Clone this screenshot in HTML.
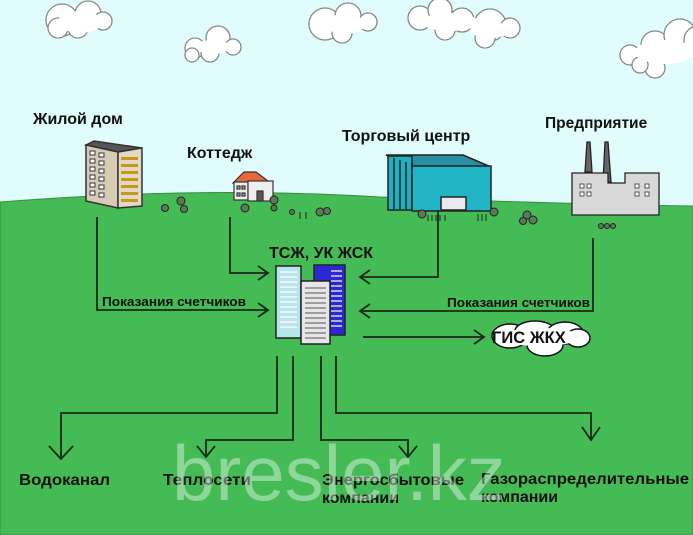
<!DOCTYPE html>
<html><head><meta charset="utf-8"><style>
html,body{margin:0;padding:0;background:#e0fcfc}
svg{display:block}
text{font-family:"Liberation Sans","DejaVu Sans",sans-serif;font-weight:bold;fill:#111}
</style></head><body>
<svg width="693" height="535" viewBox="0 0 693 535" xmlns="http://www.w3.org/2000/svg">
<rect width="693" height="535" fill="#e0fcfc"/>
<!-- clouds -->
<g fill="#fff" stroke="#888" stroke-width="1.3">
 <g><circle cx="62" cy="20" r="16"/><circle cx="88" cy="14" r="13"/><circle cx="103" cy="21" r="9"/><circle cx="78" cy="28" r="10"/><circle cx="58" cy="28" r="10"/></g>
 <g><circle cx="195" cy="48" r="10"/><circle cx="218" cy="38" r="12"/><circle cx="233" cy="47" r="8"/><circle cx="210" cy="53" r="9"/><circle cx="192" cy="55" r="7"/></g>
 <g><circle cx="325" cy="24" r="16"/><circle cx="348" cy="16" r="13"/><circle cx="368" cy="22" r="9"/><circle cx="342" cy="33" r="10"/></g>
 <g><circle cx="420" cy="18" r="12"/><circle cx="440" cy="10" r="12"/><circle cx="462" cy="20" r="12"/><circle cx="490" cy="25" r="16"/><circle cx="510" cy="28" r="10"/><circle cx="485" cy="38" r="10"/><circle cx="445" cy="30" r="10"/></g>
 <g><circle cx="630" cy="55" r="10"/><circle cx="655" cy="45" r="14"/><circle cx="680" cy="35" r="16"/><circle cx="698" cy="40" r="14"/><circle cx="655" cy="68" r="10"/><circle cx="640" cy="65" r="8"/></g>
</g>
<g fill="#fff">
 <ellipse cx="80" cy="22" rx="22" ry="11"/><ellipse cx="213" cy="47" rx="17" ry="7"/><ellipse cx="345" cy="24" rx="20" ry="10"/>
 <ellipse cx="450" cy="22" rx="28" ry="9"/><ellipse cx="490" cy="30" rx="20" ry="8"/><ellipse cx="665" cy="52" rx="30" ry="12"/>
</g>
<!-- ground -->
<path d="M0 202 Q200 186 380 197 Q560 204 693 206 L693 535 L0 535 Z" fill="#44bb55" stroke="#3a8a44" stroke-width="1"/>
<!-- top labels -->
<text x="33" y="124" font-size="16">Жилой дом</text>
<text x="187" y="158" font-size="16">Коттедж</text>
<text x="342" y="141" font-size="16">Торговый центр</text>
<text x="545" y="128" font-size="15.5">Предприятие</text>
<!-- apartment -->
<g stroke="#333" stroke-width="1.5">
 <polygon points="86,145 94,141 142,148 118,152" fill="#555"/>
 <polygon points="86,145 118,152 118,208 86,201" fill="#d8cbb4"/>
 <polygon points="118,152 142,148 142,206 118,208" fill="#e2d8c4"/>
</g>
<g fill="#c39a20">
 <rect x="121" y="157" width="17" height="3"/><rect x="121" y="164" width="17" height="3"/><rect x="121" y="171" width="17" height="3"/><rect x="121" y="178" width="17" height="3"/><rect x="121" y="185" width="17" height="3"/><rect x="121" y="192" width="17" height="3"/><rect x="121" y="199" width="17" height="3"/>
</g>
<g fill="#fff" stroke="#334" stroke-width="1">
 <rect x="90" y="151" width="5" height="4"/><rect x="99" y="153" width="5" height="4"/><rect x="90" y="159" width="5" height="4"/><rect x="99" y="161" width="5" height="4"/><rect x="90" y="167" width="5" height="4"/><rect x="99" y="169" width="5" height="4"/><rect x="90" y="175" width="5" height="4"/><rect x="99" y="177" width="5" height="4"/><rect x="90" y="183" width="5" height="4"/><rect x="99" y="185" width="5" height="4"/><rect x="90" y="191" width="5" height="4"/><rect x="99" y="193" width="5" height="4"/>
</g>
<!-- cottage -->
<g stroke="#333" stroke-width="1.2">
 <polygon points="233,183 244,172 256,172 268,181 246,183" fill="#e8683a"/>
 <rect x="234" y="182" width="14" height="18" fill="#eee"/>
 <rect x="248" y="181" width="25" height="20" fill="#eee"/>
 <rect x="257" y="191" width="6" height="10" fill="#555"/>
 <rect x="237" y="186" width="3" height="3" fill="#aac"/><rect x="242" y="186" width="3" height="3" fill="#aac"/><rect x="237" y="193" width="3" height="3" fill="#aac"/><rect x="242" y="193" width="3" height="3" fill="#aac"/>
</g>
<!-- mall -->
<g stroke="#222" stroke-width="1.5">
 <polygon points="386,155 463,155 491,167 412,167" fill="#2a8fa0"/>
 <rect x="388" y="156" width="24" height="54" fill="#20b0c0"/>
 <rect x="412" y="166" width="79" height="45" fill="#20b4c4"/>
 <line x1="394" y1="158" x2="394" y2="209"/><line x1="400" y1="160" x2="400" y2="209"/><line x1="406" y1="162" x2="406" y2="209"/>
 <rect x="441" y="197" width="25" height="13" fill="#e8e8ee"/>
</g>
<!-- factory -->
<g stroke="#222" stroke-width="1.3">
 <polygon points="585,172 587,142 590,142 592,172" fill="#666"/>
 <polygon points="603,182 605,142 608,142 611,182" fill="#666"/>
 <path d="M572 173 L608 173 L608 183 L625 183 L625 173 L659 173 L659 215 L572 215 Z" fill="#d8d8d8"/>
</g>
<g fill="#fff" stroke="#555" stroke-width="1">
 <rect x="580" y="184" width="4" height="4"/><rect x="587" y="184" width="4" height="4"/><rect x="580" y="192" width="4" height="4"/><rect x="587" y="192" width="4" height="4"/>
 <rect x="635" y="184" width="4" height="4"/><rect x="645" y="184" width="4" height="4"/><rect x="635" y="192" width="4" height="4"/><rect x="645" y="192" width="4" height="4"/>
</g>
<!-- trees -->
<g fill="#5a7a58" stroke="#222" stroke-width="1">
 <circle cx="165" cy="208" r="3.5"/><circle cx="181" cy="201" r="4"/><circle cx="184" cy="209" r="3.5"/>
 <circle cx="245" cy="208" r="4"/><circle cx="274" cy="200" r="4"/><circle cx="274" cy="208" r="3"/>
 <circle cx="292" cy="212" r="2.5"/><circle cx="320" cy="212" r="4"/><circle cx="327" cy="211" r="3.5"/>
 <circle cx="422" cy="214" r="4"/><circle cx="494" cy="212" r="4"/>
 <circle cx="527" cy="215" r="4"/><circle cx="533" cy="220" r="4"/><circle cx="523" cy="221" r="3.5"/>
 <circle cx="601" cy="226" r="2.5"/><circle cx="607" cy="226" r="2.5"/><circle cx="613" cy="226" r="2.5"/>
</g>
<g stroke="#222" stroke-width="1">
 <line x1="428" y1="215" x2="428" y2="221"/><line x1="432" y1="215" x2="432" y2="221"/><line x1="436" y1="215" x2="436" y2="221"/><line x1="440" y1="215" x2="440" y2="221"/><line x1="445" y1="215" x2="445" y2="221"/>
 <line x1="478" y1="214" x2="478" y2="221"/><line x1="482" y1="214" x2="482" y2="221"/><line x1="486" y1="214" x2="486" y2="221"/>
 <line x1="300" y1="212" x2="300" y2="219"/><line x1="306" y1="212" x2="306" y2="219"/>
</g>
<!-- connectors -->
<g fill="none" stroke="#1a2a1a" stroke-width="1.8">
 <polyline points="97,217 97,310 268,310"/><polyline points="258,303 268,310 258,317"/>
 <polyline points="230,217 230,273 268,273"/><polyline points="258,266 268,273 258,280"/>
 <polyline points="438,210 438,277 360,277"/><polyline points="370,270 360,277 370,284"/>
 <polyline points="593,238 593,311 360,311"/><polyline points="370,304 360,311 370,318"/>
 <polyline points="363,337 484,337"/><polyline points="474,330 484,337 474,344"/>
 <polyline points="277,356 277,413 61,413 61,458"/><polyline points="49,446 61,459 73,446"/>
 <polyline points="293,356 293,440 206,440 206,456"/><polyline points="197,446 206,457 215,446"/>
 <polyline points="321,356 321,440 408,440 408,456"/><polyline points="399,446 408,457 417,446"/>
 <polyline points="336,356 336,413 591,413 591,440"/><polyline points="582,427 591,440 600,427"/>
</g>
<text x="102" y="306" font-size="13" textLength="144" lengthAdjust="spacingAndGlyphs">Показания счетчиков</text>
<text x="447" y="307" font-size="13" textLength="143" lengthAdjust="spacingAndGlyphs">Показания счетчиков</text>
<!-- TSZh buildings -->
<text x="269" y="258" font-size="15.5" textLength="104" lengthAdjust="spacingAndGlyphs">ТСЖ, УК ЖСК</text>
<g stroke="#222" stroke-width="1.5">
 <rect x="314" y="265" width="31" height="70" fill="#2a2ad0"/>
 <rect x="276" y="266" width="25" height="72" fill="#b8e4ec"/>
 <rect x="301" y="281" width="29" height="63" fill="#e6e6e6"/>
</g>
<g stroke="#fff" stroke-width="1.2">
 <line x1="331" y1="271" x2="342" y2="271"/><line x1="331" y1="276" x2="342" y2="276"/><line x1="331" y1="281" x2="342" y2="281"/><line x1="331" y1="286" x2="342" y2="286"/><line x1="331" y1="291" x2="342" y2="291"/><line x1="331" y1="296" x2="342" y2="296"/><line x1="331" y1="301" x2="342" y2="301"/><line x1="331" y1="306" x2="342" y2="306"/><line x1="331" y1="311" x2="342" y2="311"/><line x1="331" y1="316" x2="342" y2="316"/><line x1="331" y1="321" x2="342" y2="321"/><line x1="331" y1="326" x2="342" y2="326"/>
 <line x1="280" y1="272" x2="297" y2="272"/><line x1="280" y1="277" x2="297" y2="277"/><line x1="280" y1="282" x2="297" y2="282"/><line x1="280" y1="287" x2="297" y2="287"/><line x1="280" y1="292" x2="297" y2="292"/><line x1="280" y1="297" x2="297" y2="297"/><line x1="280" y1="302" x2="297" y2="302"/><line x1="280" y1="307" x2="297" y2="307"/><line x1="280" y1="312" x2="297" y2="312"/><line x1="280" y1="317" x2="297" y2="317"/><line x1="280" y1="322" x2="297" y2="322"/><line x1="280" y1="327" x2="297" y2="327"/>
</g>
<g stroke="#555" stroke-width="1">
 <line x1="305" y1="288" x2="326" y2="288"/><line x1="305" y1="293" x2="326" y2="293"/><line x1="305" y1="298" x2="326" y2="298"/><line x1="305" y1="303" x2="326" y2="303"/><line x1="305" y1="308" x2="326" y2="308"/><line x1="305" y1="313" x2="326" y2="313"/><line x1="305" y1="318" x2="326" y2="318"/><line x1="305" y1="323" x2="326" y2="323"/><line x1="305" y1="328" x2="326" y2="328"/><line x1="305" y1="333" x2="326" y2="333"/><line x1="305" y1="338" x2="326" y2="338"/>
</g>
<!-- GIS cloud -->
<g fill="#fff" stroke="#111" stroke-width="1.5">
 <ellipse cx="510" cy="336" rx="18" ry="12"/><ellipse cx="535" cy="331" rx="20" ry="10"/><ellipse cx="565" cy="333" rx="18" ry="11"/><ellipse cx="578" cy="338" rx="12" ry="9"/><ellipse cx="545" cy="345" rx="18" ry="11"/>
</g>
<g fill="#fff"><ellipse cx="540" cy="337" rx="40" ry="9"/><ellipse cx="545" cy="342" rx="16" ry="9"/></g>
<text x="492" y="343" font-size="16.5">ГИС ЖКХ</text>
<!-- bottom labels -->
<text x="19" y="485" font-size="16" textLength="91" lengthAdjust="spacingAndGlyphs">Водоканал</text>
<text x="163" y="485" font-size="16" textLength="88" lengthAdjust="spacingAndGlyphs">Теплосети</text>
<text x="322" y="485" font-size="16" textLength="142" lengthAdjust="spacingAndGlyphs">Энергосбытовые</text>
<text x="322" y="503" font-size="16">компании</text>
<text x="481" y="484" font-size="16" textLength="208" lengthAdjust="spacingAndGlyphs">Газораспределительные</text>
<text x="481" y="502" font-size="16">компании</text>
<!-- watermark -->
<text x="172" y="500" font-size="78" style="font-weight:normal;fill:#ffffff;fill-opacity:0.4">bresler.kz</text>
</svg>
</body></html>
